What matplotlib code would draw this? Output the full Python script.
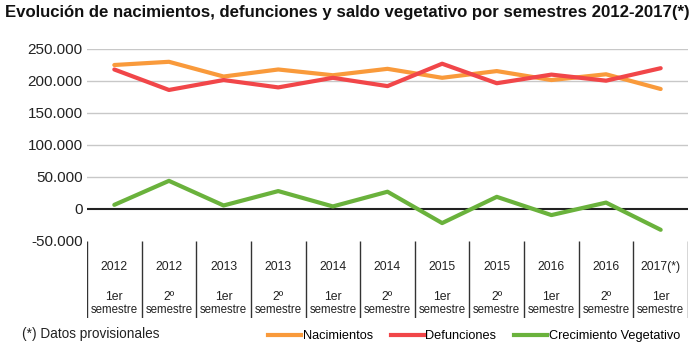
import matplotlib
matplotlib.use("Agg")
import matplotlib.pyplot as plt
from matplotlib.lines import Line2D
from matplotlib.ticker import FuncFormatter

plt.rcParams["font.family"] = ["Liberation Sans", "DejaVu Sans"]

years = ["2012", "2012", "2013", "2013", "2014", "2014", "2015", "2015", "2016", "2016", "2017(*)"]
semesters = ["1er", "2º", "1er", "2º", "1er", "2º", "1er", "2º", "1er", "2º", "1er"]
nacimientos = [225000, 230000, 207000, 218000, 209000, 219000, 205000, 215500, 201500, 210500, 187500]
defunciones = [218000, 186000, 201500, 190000, 205000, 192000, 227000, 196500, 210000, 200500, 220000]
crecimiento = [6500, 44000, 5500, 28000, 4000, 27000, -22000, 19000, -9500, 10000, -32500]

ORANGE = "#F99A3B"
RED = "#F14649"
GREEN = "#6AB23C"

W, H = 700, 351
fig = plt.figure(figsize=(7, 3.51), dpi=100)

x0, x1 = 87, 688
ax = fig.add_axes([x0 / W, 1 - 241 / H, (x1 - x0) / W, (241 - 49) / H])
x = list(range(len(years)))
ax.set_xlim(-0.5, len(years) - 0.5)
ax.set_ylim(-50000, 250000)

for v in [50000, 100000, 150000, 200000, 250000]:
    ax.axhline(v, color="#C8C8C8", lw=1.0, zorder=1)
ax.axhline(0, color="#222222", lw=1.5, zorder=2)

ax.plot(x, nacimientos, color=ORANGE, lw=3, solid_capstyle="round", zorder=3)
ax.plot(x, defunciones, color=RED, lw=3, solid_capstyle="round", zorder=4)
ax.plot(x, crecimiento, color=GREEN, lw=3, solid_capstyle="round", zorder=3)

ax.set_yticks([-50000, 0, 50000, 100000, 150000, 200000, 250000])
ax.yaxis.set_major_formatter(FuncFormatter(lambda v, p: f"{int(v):,}".replace(",", ".")))
ax.tick_params(axis="y", length=0, pad=3, labelsize=11, labelcolor="#222222")
ax.set_xticks([])
for s in ax.spines.values():
    s.set_visible(False)

# category table under the plot
tab = fig.add_axes([x0 / W, 1 - 318 / H, (x1 - x0) / W, (318 - 241) / H])
tab.set_xlim(-0.5, len(years) - 0.5)
tab.set_ylim(0, 1)
tab.axis("off")
tab.vlines([i - 0.5 for i in range(len(years) + 1)], 0, 1, color="#333333", lw=1.0)
for i in x:
    tab.text(i, 0.66, years[i], ha="center", va="center", fontsize=8.8, color="#222222")
    tab.text(i, 0.27, semesters[i], ha="center", va="center", fontsize=8.8, color="#222222")
    tab.text(i, 0.1, "semestre", ha="center", va="center", fontsize=8.3, color="#222222")

fig.text(5 / W, 1 - 12 / H, "Evolución de nacimientos, defunciones y saldo vegetativo por semestres 2012-2017(*)",
         fontsize=12.1, fontweight="bold", ha="left", va="center", color="#111111")
fig.text(22 / W, 1 - 334 / H, "(*) Datos provisionales", fontsize=9.8, ha="left", va="center",
         color="#222222")

handles = [Line2D([], [], color=ORANGE, lw=3),
           Line2D([], [], color=RED, lw=3),
           Line2D([], [], color=GREEN, lw=3)]
fig.legend(handles, ["Nacimientos", "Defunciones", "Crecimiento Vegetativo"],
           loc="center", bbox_to_anchor=(474 / W, 1 - 336 / H), ncol=3, frameon=False,
           fontsize=9.2, handlelength=2.6, handletextpad=0.1, columnspacing=1.4,
           borderpad=0, borderaxespad=0)

fig.savefig("out.png", dpi=100)
